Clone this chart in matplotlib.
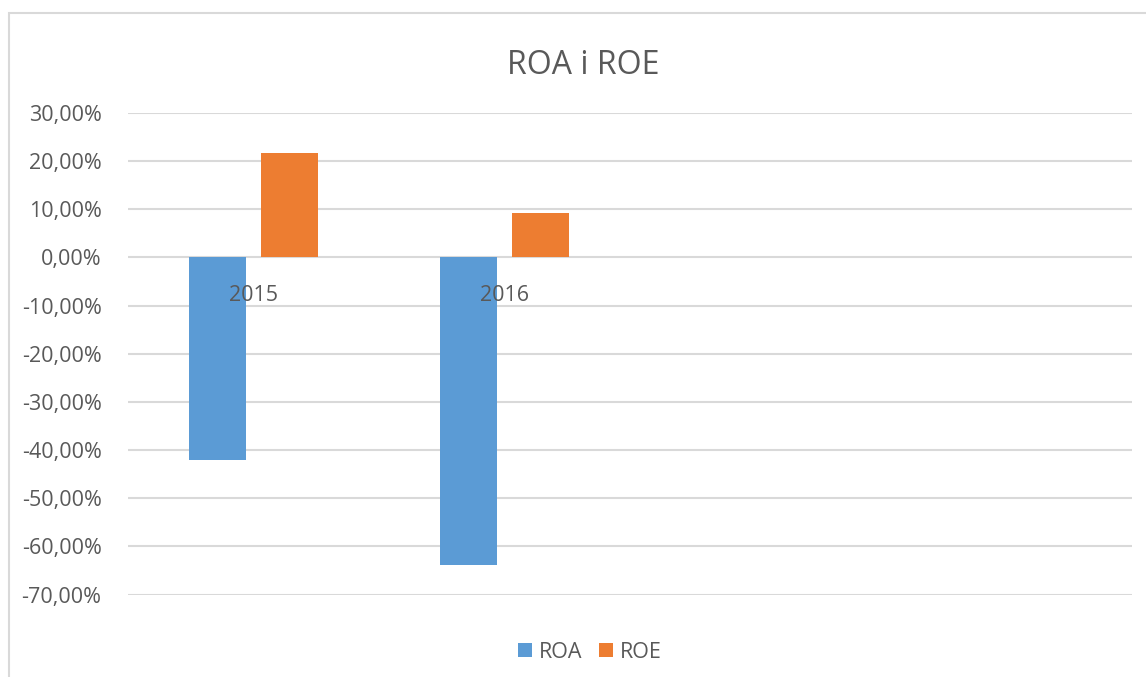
import numpy as np
import matplotlib
matplotlib.use("Agg")
from matplotlib import pyplot as plt
from matplotlib.patches import Rectangle

# data
years = ['2015', '2016', '', '']
roa = [-42.1, -63.9]
roe = [21.6, 9.3]
y_ticks = [30, 20, 10, 0, -10, -20, -30, -40, -50, -60, -70]

text_color = '#595959'
grid_color = '#D9D9D9'
blue = '#5B9BD5'
orange = '#ED7D31'

plt.rcParams['font.family'] = ['Open Sans', 'DejaVu Sans']

fig = plt.figure(figsize=(11.46, 6.77), dpi=100)
ax = fig.add_axes([128 / 1146, 1 - 594.5 / 677, 1004 / 1146, 481.5 / 677])

x = np.arange(len(roa))
bw = 57 / 251
off = (57 + 15) / 2 / 251
ax.bar(x - off, roa, bw, color=blue, label='ROA', zorder=3)
ax.bar(x + off, roe, bw, color=orange, label='ROE', zorder=3)

ax.set_xlim(-0.5, len(years) - 0.5)
ax.set_ylim(-70, 30)
ax.set_yticks(y_ticks)
ax.set_yticklabels(['{:.2f}%'.format(v).replace('.', ',') for v in y_ticks],
                   color=text_color, fontsize=15.5)
ax.tick_params(axis='y', length=0, pad=19)
ax.set_xticks([])
ax.grid(axis='y', color=grid_color, linewidth=1.5, zorder=0)
for s in ax.spines.values():
    s.set_visible(False)

# category labels sit next to the zero line
for i, name in enumerate(years):
    if name:
        ax.text(i, -7.8, name, ha='center', va='center', fontsize=15.5, color=text_color, zorder=4)

fig.text(583 / 1146, 1 - 65 / 677, 'ROA i ROE', ha='center', va='center',
         fontsize=23, color=text_color)

leg = fig.legend(loc='center', bbox_to_anchor=(590 / 1146, 1 - 652 / 677), ncol=2,
                 frameon=False, fontsize=15.5, handlelength=0.65, handleheight=0.65,
                 handletextpad=0.3, columnspacing=0.8)
for t in leg.get_texts():
    t.set_color(text_color)

# outer chart border
fig.add_artist(Rectangle((9 / 1146, -0.1), 1.2, 1 - 13 / 677 + 0.1, transform=fig.transFigure,
                         fill=False, edgecolor=grid_color, linewidth=1.5))

plt.savefig('out.png', dpi=100)
